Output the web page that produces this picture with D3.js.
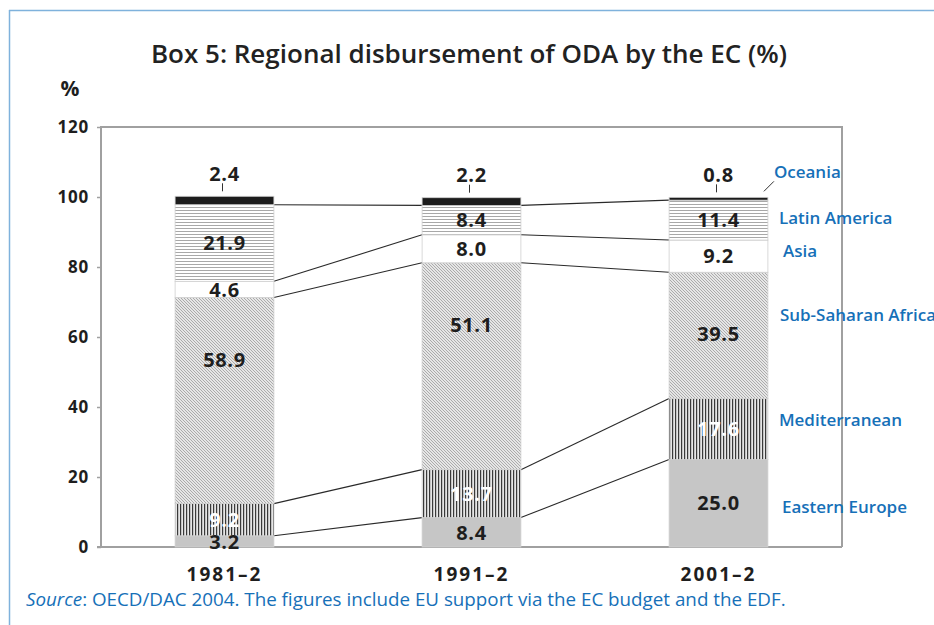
<!DOCTYPE html>
<html><head><meta charset="utf-8">
<script src="https://cdn.jsdelivr.net/npm/d3@7"></script>
<style>
html,body{margin:0;padding:0;background:#fff;}
svg{display:block;}
</style></head>
<body>
<svg id="chart" width="934" height="625"></svg>
<script>
// ---- data ----
const periods = ["1981–2", "1991–2", "2001–2"];
const regions = ["Eastern Europe", "Mediterranean", "Sub-Saharan Africa", "Asia", "Latin America", "Oceania"];
// segment heights as drawn (% of total)
const easternEurope = [3.2, 8.4, 25.0];
const mediterranean = [9.2, 13.7, 17.4];
const subSaharanAfrica = [58.9, 59.1, 36.1];
const asia = [4.6, 8.0, 9.2];
const latinAmerica = [21.9, 8.4, 11.4];
const oceania = [2.4, 2.2, 0.8];
// printed value labels
const labelsEasternEurope = ["3.2", "8.4", "25.0"];
const labelsMediterranean = ["9.2", "13.7", "17.6"];
const labelsSubSaharanAfrica = ["58.9", "51.1", "39.5"];
const labelsAsia = ["4.6", "8.0", "9.2"];
const labelsLatinAmerica = ["21.9", "8.4", "11.4"];
const labelsOceania = ["2.4", "2.2", "0.8"];
const yTicks = [0, 20, 40, 60, 80, 100, 120];

const seriesValues = [easternEurope, mediterranean, subSaharanAfrica, asia, latinAmerica, oceania];
const seriesLabels = [labelsEasternEurope, labelsMediterranean, labelsSubSaharanAfrica, labelsAsia, labelsLatinAmerica, labelsOceania];

// ---- layout ----
const svg = d3.select("#chart");
const plot = {left: 101, right: 842, top: 127, bottom: 547};
const y = d3.scaleLinear().domain([0, 120]).range([plot.bottom, plot.top]);
const x = d3.scaleBand().domain(periods).range([plot.left, plot.right]).paddingInner(0.6).paddingOuter(0.3);
const blue = "#1670b8";
const numFont = "'Open Sans', sans-serif";

// patterns
const defs = svg.append("defs");
const pH = defs.append("pattern").attr("id", "pH").attr("patternUnits", "userSpaceOnUse").attr("width", 6).attr("height", 3);
pH.append("rect").attr("width", 6).attr("height", 3).attr("fill", "#ffffff");
pH.append("rect").attr("y", 0).attr("width", 6).attr("height", 1).attr("fill", "#a8a8a8");

const pD = defs.append("pattern").attr("id", "pD").attr("patternUnits", "userSpaceOnUse").attr("width", 3).attr("height", 3);
pD.append("rect").attr("width", 3).attr("height", 3).attr("fill", "#e6e6e6");
pD.append("path").attr("d", "M0,0 L3,3 M-1,2 L1,4 M2,-1 L4,1").attr("stroke", "#9c9c9c").attr("stroke-width", 0.8);

const pV = defs.append("pattern").attr("id", "pV").attr("patternUnits", "userSpaceOnUse").attr("width", 3).attr("height", 6);
pV.append("rect").attr("width", 3).attr("height", 6).attr("fill", "#e6e6e6");
pV.append("rect").attr("x", 0).attr("width", 1.2).attr("height", 6).attr("fill", "#3a3a3a");

const fills = ["#c6c6c6", "url(#pV)", "url(#pD)", "#ffffff", "url(#pH)", "#1c1c1c"];
const labelColors = ["#1e1e1e", "#ffffff", "#1e1e1e", "#1e1e1e", "#1e1e1e", "#1e1e1e"];

// outer border
svg.append("line").attr("x1", 9).attr("x2", 934).attr("y1", 10.5).attr("y2", 10.5).attr("stroke", "#7fb2dc").attr("stroke-width", 1.5);
svg.append("line").attr("x1", 9.5).attr("x2", 9.5).attr("y1", 10).attr("y2", 625).attr("stroke", "#7fb2dc").attr("stroke-width", 1.5);

// title
svg.append("text").attr("x", 469).attr("y", 63).attr("text-anchor", "middle")
  .attr("font-family", "'Open Sans', sans-serif").attr("font-weight", 600).attr("font-size", 26)
  .attr("fill", "#222").text("Box 5: Regional disbursement of ODA by the EC (%)");

// % unit
svg.append("text").attr("x", 70).attr("y", 96).attr("text-anchor", "middle")
  .attr("font-family", numFont).attr("font-weight", 700).attr("font-size", 21).attr("fill", "#1e1e1e").text("%");

// stack
const table = periods.map((p, i) => {
  const o = {period: p};
  regions.forEach((r, k) => o[r] = seriesValues[k][i]);
  return o;
});
const stacked = d3.stack().keys(regions)(table);

// connector lines between bars (at each internal segment top, except the last)
const conn = svg.append("g");
stacked.slice(0, regions.length - 1).forEach(layer => {
  for (let i = 0; i < periods.length - 1; i++) {
    conn.append("line")
      .attr("x1", x(periods[i]) + x.bandwidth()).attr("y1", y(layer[i][1]))
      .attr("x2", x(periods[i + 1])).attr("y2", y(layer[i + 1][1]))
      .attr("stroke", "#2a2a2a").attr("stroke-width", 1.1);
  }
});

// plot frame
const frame = svg.append("g").attr("fill", "none").attr("stroke", "#a0a0a0").attr("stroke-width", 2);
frame.append("path").attr("d", `M${plot.left},${plot.bottom} V${plot.top} H${plot.right} V${plot.bottom}`);
frame.append("line").attr("x1", plot.left - 4).attr("x2", plot.right).attr("y1", plot.bottom).attr("y2", plot.bottom);

// y axis
const yAxis = svg.append("g").attr("transform", `translate(${plot.left},0)`)
  .call(d3.axisLeft(y).tickValues(yTicks).tickSize(4).tickPadding(8));
yAxis.select(".domain").remove();
yAxis.selectAll(".tick line").attr("stroke", "#a0a0a0").attr("stroke-width", 1.5);
yAxis.selectAll(".tick text").attr("font-family", numFont).attr("font-weight", 700)
  .attr("font-size", 17).attr("letter-spacing", 0.8).attr("fill", "#1e1e1e");

// x axis labels
const xAxis = svg.append("g").attr("transform", `translate(0,${plot.bottom})`)
  .call(d3.axisBottom(x).tickSize(0).tickPadding(21));
xAxis.select(".domain").remove();
xAxis.selectAll(".tick text").attr("font-family", numFont).attr("font-weight", 700)
  .attr("font-size", 19).attr("letter-spacing", 2).attr("fill", "#1e1e1e");

// bars
const barG = svg.append("g");
stacked.forEach((layer, k) => {
  barG.selectAll(null).data(layer).enter().append("rect")
    .attr("x", d => x(d.data.period))
    .attr("y", d => y(d[1]))
    .attr("width", x.bandwidth())
    .attr("height", d => y(d[0]) - y(d[1]))
    .attr("fill", fills[k])
    .attr("stroke", "#cfcfcf").attr("stroke-width", 0.8);
});

// labels inside bars (all but the top series)
const lblG = svg.append("g").attr("font-family", numFont).attr("font-weight", 700).attr("font-size", 20)
  .attr("letter-spacing", 0.6).attr("text-anchor", "middle");
stacked.slice(0, regions.length - 1).forEach((layer, k) => {
  layer.forEach((d, i) => {
    const top = y(d[1]), bot = y(d[0]);
    const cy = Math.min((top + bot) / 2, top + 62);
    lblG.append("text").attr("x", x(d.data.period) + x.bandwidth() / 2).attr("y", cy)
      .attr("dy", "0.36em").attr("fill", labelColors[k]).text(seriesLabels[k][i]);
  });
});

// top-series labels above bars with ticks
const topLayer = stacked[regions.length - 1];
topLayer.forEach((d, i) => {
  const cx = x(d.data.period) + x.bandwidth() / 2;
  lblG.append("text").attr("x", cx).attr("y", y(d[1]) - 23).attr("dy", "0.36em")
    .attr("fill", "#1e1e1e").text(seriesLabels[regions.length - 1][i]);
  svg.append("line").attr("x1", cx - 2).attr("x2", cx - 2)
    .attr("y1", y(d[1]) - 13).attr("y2", y(d[1]) - 5).attr("stroke", "#333").attr("stroke-width", 1);
});

// region names (legend) beside last bar
const lastIdx = periods.length - 1;
const lastRight = x(periods[lastIdx]) + x.bandwidth();
const legendLayout = [
  {dx: 14, y: 507}, {dx: 11, y: 420}, {dx: 12, y: 315},
  {dx: 15, y: 251}, {dx: 11, y: 218}, {dx: 6, y: 172}
];
regions.forEach((r, k) => {
  svg.append("text").attr("x", lastRight + legendLayout[k].dx).attr("y", legendLayout[k].y)
    .attr("dy", "0.36em").attr("font-family", "'Open Sans', sans-serif").attr("font-weight", 600)
    .attr("font-size", 17).attr("fill", blue).text(r);
});
// leader for top series name
const topLast = y(topLayer[lastIdx][1]);
svg.append("line").attr("x1", lastRight - 4).attr("y1", topLast - 6)
  .attr("x2", lastRight + 6).attr("y2", topLast - 16).attr("stroke", "#333").attr("stroke-width", 1);

// source
const src = svg.append("text").attr("x", 26).attr("y", 606)
  .attr("font-family", "'Open Sans', sans-serif").attr("font-size", 18.8).attr("fill", blue);
src.append("tspan").attr("font-style", "italic").text("Source");
src.append("tspan").text(": OECD/DAC 2004. The figures include EU support via the EC budget and the EDF.");
</script>
</body></html>
